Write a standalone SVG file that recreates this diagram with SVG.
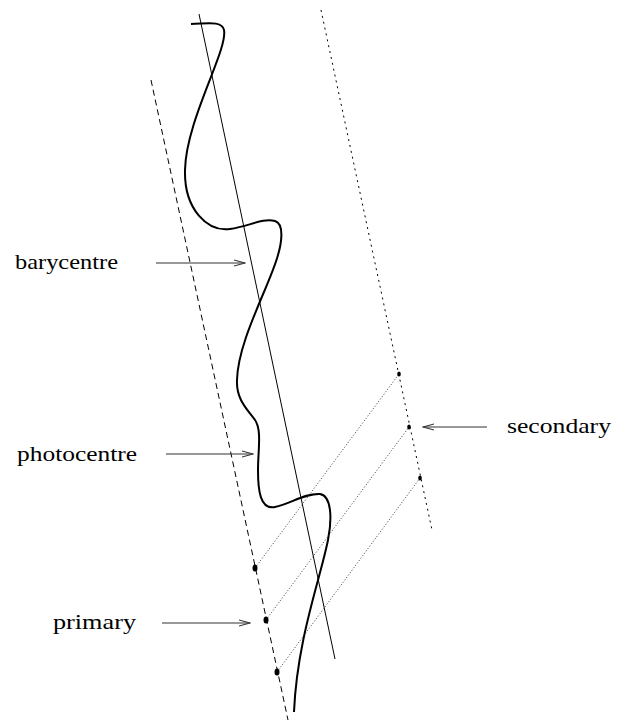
<svg xmlns="http://www.w3.org/2000/svg" width="626" height="722" viewBox="0 0 626 722">
<style>
text{font-family:"Liberation Serif","DejaVu Serif",serif;font-size:22px;fill:#000}
.arr{stroke:#333;stroke-width:1.1;fill:none;marker-end:url(#ah)}
.dash{stroke:#000;stroke-width:1;stroke-dasharray:6,4;fill:none}
.dot{stroke:#000;stroke-width:1;stroke-dasharray:2,4;fill:none}
.fine{stroke:#222;stroke-width:0.9;stroke-dasharray:1,2;fill:none}
.dotpt{fill:#000}
</style>
<defs>
<marker id="ah" markerWidth="12" markerHeight="8" refX="11" refY="4" orient="auto" markerUnits="userSpaceOnUse">
<path d="M0,1 L11,4 L0,7" fill="none" stroke="#333" stroke-width="1.1"/>
</marker>
</defs>
<rect width="626" height="722" fill="#fff"/>
<g id="orbits">
<line class="dash" x1="151" y1="80" x2="288" y2="720"/>
<line class="dot" x1="321" y1="10" x2="432" y2="530"/>
<line x1="199" y1="14" x2="335" y2="659" stroke="#000" stroke-width="1"/>
<path d="M191,24 C205,24 222,20 224,30 C228,50 186,120 185,170 C184,210 208,232 230,229 C250,226 262,218 275,221 C285,224 281,245 278,255 C270,285 238,340 237,380 C236,400 248,410 255,420 C262,430 258,450 258,470 C258,490 260,510 275,507 C290,504 305,493 320,494 C332,496 332,520 328,540 C320,580 297,640 294,712" fill="none" stroke="#000" stroke-width="2"/>
</g>
<g id="connectors">
<line class="fine" x1="255" y1="568" x2="399" y2="374"/>
<line class="fine" x1="266" y1="620" x2="409" y2="427"/>
<line class="fine" x1="277" y1="672" x2="420" y2="478"/>
<line class="arr" x1="156" y1="263" x2="245" y2="263"/>
<line class="arr" x1="166" y1="454" x2="253" y2="454"/>
<line class="arr" x1="162" y1="623" x2="250" y2="623"/>
<line class="arr" x1="487" y1="427" x2="423" y2="427"/>
</g>
<g id="primary-points">
<ellipse class="dotpt" cx="255" cy="568" rx="2.5" ry="3.5"/>
<ellipse class="dotpt" cx="266" cy="620" rx="2.5" ry="3.5"/>
<ellipse class="dotpt" cx="277" cy="672" rx="2.5" ry="3.5"/>
</g>
<g id="secondary-points">
<ellipse class="dotpt" cx="399" cy="374" rx="1.8" ry="2.5"/>
<ellipse class="dotpt" cx="409" cy="427" rx="1.8" ry="2.5"/>
<ellipse class="dotpt" cx="420" cy="478" rx="1.8" ry="2.5"/>
</g>
<g id="label-barycentre"><text x="15" y="269" textLength="103" lengthAdjust="spacingAndGlyphs">barycentre</text></g>
<g id="label-photocentre"><text x="17" y="461" textLength="120" lengthAdjust="spacingAndGlyphs">photocentre</text></g>
<g id="label-primary"><text x="53" y="629" textLength="83" lengthAdjust="spacingAndGlyphs">primary</text></g>
<g id="label-secondary"><text x="507" y="433" textLength="104" lengthAdjust="spacingAndGlyphs">secondary</text></g>
</svg>
